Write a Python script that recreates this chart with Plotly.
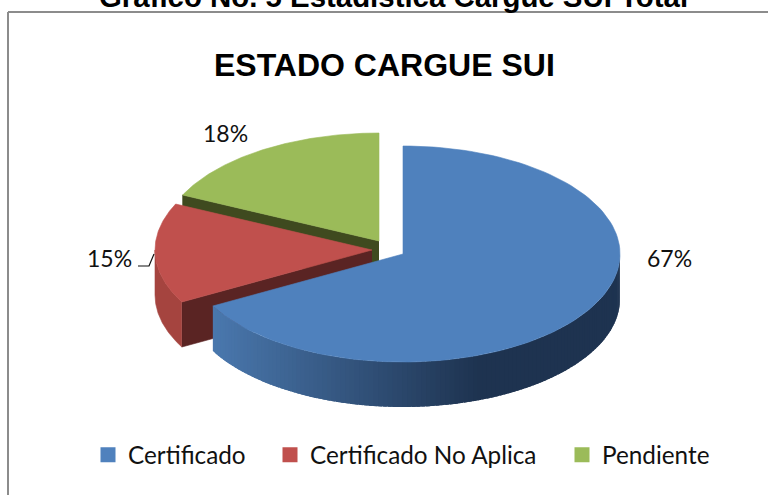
import numpy as np
import plotly.graph_objects as go

categories = ["Certificado", "Certificado No Aplica", "Pendiente"]
values = [67, 15, 18]
colors = ["#4F81BD", "#C0504D", "#9BBB59"]
side_colors = ["#1F3552", "#5A2423", "#3F4A1F"]
title_text = "ESTADO CARGUE SUI"
outer_title = "Grafico No. 5 Estadística Cargue SUI Total"

RX, RY, DEPTH = 217, 108, 45
centers = [(403, 254), (372, 250), (379, 241)]


def rim(cx, cy, a0, a1, n=120):
    t = np.radians(np.linspace(a0, a1, n))
    return cx + RX * np.sin(t), cy - RY * np.cos(t)


def poly(fig, x, y, color, width=0.6):
    fig.add_trace(go.Scatter(x=list(x), y=list(y), mode="lines", fill="toself", fillcolor=color,
                             line=dict(color=color, width=width), hoverinfo="skip", showlegend=False))


def blend(c0, c1, f):
    a = [int(c0[i:i + 2], 16) for i in (1, 3, 5)]
    b = [int(c1[i:i + 2], 16) for i in (1, 3, 5)]
    return "#" + "".join(f"{round(p + (q - p) * f):02X}" for p, q in zip(a, b))


total = sum(values)
edges = np.cumsum([0] + values) * 360 / total
fig = go.Figure()

# green, then red, then blue: back to front
for idx in (2, 1, 0):
    cx, cy = centers[idx]
    a0, a1 = edges[idx], edges[idx + 1]
    ex, ey = rim(cx, cy, a0, a0, 1)
    if idx in (1, 2):
        poly(fig, [cx, ex[0], ex[0], cx], [cy, ey[0], ey[0] + DEPTH, cy + DEPTH], side_colors[idx])
    if idx == 1:
        bx, by = rim(cx, cy, a0, 270.0)
        poly(fig, list(bx) + list(bx[::-1]), list(by) + list(by[::-1] + DEPTH), "#A5443F")
    if idx == 0:
        segs = np.linspace(a1, 90, 120)
        for s0, s1 in zip(segs[:-1], segs[1:]):
            bx, by = rim(cx, cy, s0, s1 - 1.0, 4)   # each band overlaps the next one
            xm = (bx[0] + bx[-1]) / 2
            f = min(1.0, max(0.0, (480 - xm) / (480 - 213)))
            poly(fig, list(bx) + list(bx[::-1]), list(by) + list(by[::-1] + DEPTH),
                 blend("#1E3350", "#4A78AE", f), width=0)
    tx, ty = rim(cx, cy, a0, a1)
    poly(fig, [cx] + list(tx) + [cx], [cy] + list(ty) + [cy], colors[idx])

# leader line of the 15% label
fig.add_trace(go.Scatter(x=[138, 149, 154], y=[266, 266, 254], mode="lines",
                         line=dict(color="#111111", width=1.2), hoverinfo="skip", showlegend=False))

# real legends, one per entry, so each can sit where the reference has it
legend_x = [88, 270, 562]
for i, (name, col) in enumerate(zip(categories, colors)):
    key = "legend" if i == 0 else f"legend{i + 1}"
    fig.add_trace(go.Scatter(x=[None], y=[None], mode="markers", name=name, legend=key,
                             marker=dict(symbol="square", size=15, color=col)))

label_pos = [(669, 258), (109, 258), (225, 133)]
annotations = [dict(x=p[0], y=p[1], text=f"{round(v * 100 / total)}%", showarrow=False,
                    xanchor="center", yanchor="middle",
                    font=dict(family="Lato", size=23, color="#111111"))
               for p, v in zip(label_pos, values)]
annotations.append(dict(x=384, y=65, text=f"<b>{title_text}</b>", showarrow=False, xanchor="center",
                        yanchor="middle", font=dict(family="Liberation Sans", size=32, color="#000000")))
annotations.append(dict(x=393 / 768, y=1, xref="paper", yref="paper", text=f"<b>{outer_title}</b>",
                        showarrow=False, xanchor="center", yanchor="bottom", yshift=-15,
                        font=dict(family="Liberation Sans", size=29.4, color="#000000")))

layout = dict(
    width=768, height=495, margin=dict(l=0, r=0, t=0, b=0),
    paper_bgcolor="white", plot_bgcolor="white",
    xaxis=dict(range=[0, 768], visible=False, fixedrange=True),
    yaxis=dict(range=[495, 0], visible=False, fixedrange=True),
    annotations=annotations,
    shapes=[dict(type="line", x0=8, x1=8, y0=12, y1=495, line=dict(color="#8C8C8C", width=2)),
            dict(type="line", x0=8, x1=768, y0=12, y1=12, line=dict(color="#8C8C8C", width=2))],
)
for i, lx in enumerate(legend_x):
    key = "legend" if i == 0 else f"legend{i + 1}"
    layout[key] = dict(x=lx / 768, y=1 - 455 / 495, xanchor="left", yanchor="middle",
                       font=dict(family="Lato", size=24.3, color="#111111"),
                       bgcolor="rgba(0,0,0,0)", itemsizing="trace", itemwidth=30)
fig.update_layout(**layout)
fig.write_html("out.html", config=dict(displayModeBar=False),
               post_script="document.body.style.margin='0';document.documentElement.style.overflow='hidden';")
